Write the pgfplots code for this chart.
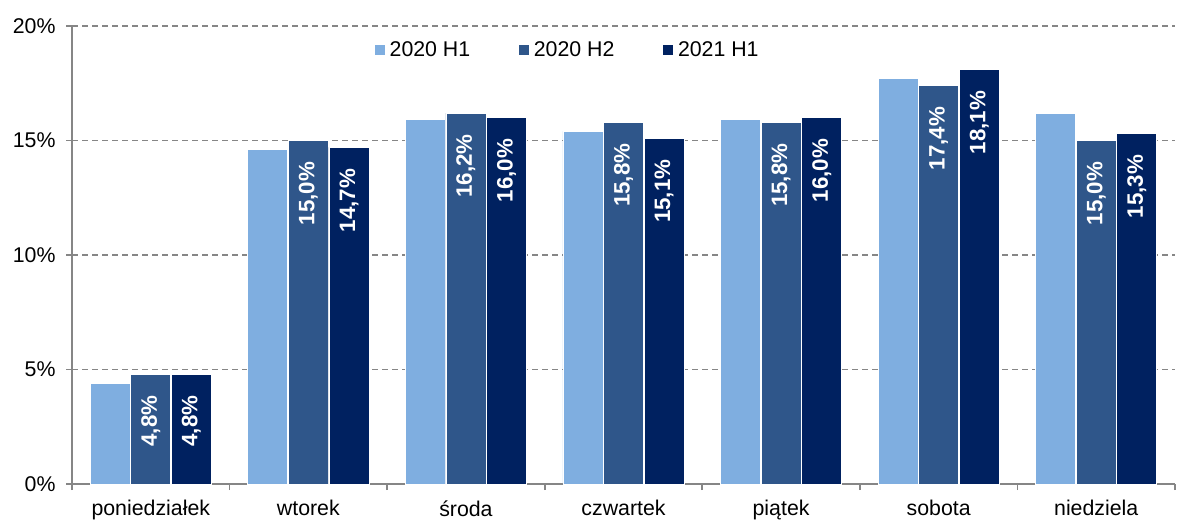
\documentclass[border=0pt]{standalone}
\usepackage{pgfplots}
\pgfplotsset{compat=1.18}
\usepackage{pgfplotstable}
\usepackage{fontspec}
\setmainfont{Liberation Sans}

\definecolor{hOne}{RGB}{127,174,224}
\definecolor{hTwo}{RGB}{47,86,138}
\definecolor{hThree}{RGB}{0,33,96}
\definecolor{axgray}{RGB}{134,134,134}

% share of transactions by day of week (%)
\pgfplotstableread{
x  a    b    c
0  4.4  4.8  4.8
1  14.6 15.0 14.7
2  15.9 16.2 16.0
3  15.4 15.8 15.1
4  15.9 15.8 16.0
5  17.7 17.4 18.1
6  16.2 15.0 15.3
}\days

\newcommand\lblfont{\fontsize{10.7}{12.5}\selectfont}

\begin{document}
\lblfont
\begin{tikzpicture}[x=1bp,y=1bp]
% fixes page size
\path (0,0) rectangle (591,260);
\begin{axis}[
  at={(36bp,18bp)}, anchor=south west,
  width=551.5bp, height=229bp, scale only axis,
  /pgf/number format/assume math mode=true,
  ymin=0, ymax=20, ytick={0,5,10,15,20},
  yticklabel={\pgfmathprintnumber{\tick}\%},
  xmin=-0.5, xmax=6.5,
  xtick={0,...,6},
  xticklabels={poniedziałek,wtorek,środa,czwartek,piątek,sobota,niedziela},
  minor xtick={-0.5,0.5,...,6.5},
  major x tick style={draw=none},
  tick align=outside,
  major tick length=3bp, minor tick length=3bp,
  tick style={axgray, line width=0.9pt},
  axis x line*=bottom, axis y line*=left,
  axis line style={axgray, line width=0.9pt, -},
  ymajorgrids,
  grid style={axgray, line width=0.7pt, dash pattern=on 3bp off 2bp},
  yticklabel style={font=\lblfont, xshift=-1.5bp},
  xticklabel style={font=\lblfont, yshift=-1.5bp},
  ybar, bar width=20bp,
  clip=false,
  legend style={at={(0.45,0.985)}, anchor=north, draw=none, fill=none,
    legend columns=3, font=\lblfont,
    /tikz/every even column/.append style={column sep=22bp}},
  legend image code/.code={\fill[#1] (0bp,-2.7bp) rectangle (5.4bp,2.7bp);},
  nodes near coords style={rotate=90, anchor=east, text=white,
    font=\bfseries\fontsize{11.2}{13}\selectfont, xshift=-7bp},
]
\addplot[fill=hOne, draw=white, line width=0.4pt, bar shift=-20.3bp] table[x=x,y=a] {\days};
\addplot[fill=hTwo, draw=white, line width=0.4pt, bar shift=0bp,
  nodes near coords={\pgfmathprintnumber[fixed,fixed zerofill,precision=1,use comma]{\pgfplotspointmeta}\%}]
  table[x=x,y=b] {\days};
\addplot[fill=hThree, draw=white, line width=0.4pt, bar shift=20.3bp,
  nodes near coords={\pgfmathprintnumber[fixed,fixed zerofill,precision=1,use comma]{\pgfplotspointmeta}\%}]
  table[x=x,y=c] {\days};
\legend{2020 H1, 2020 H2, 2021 H1}
\end{axis}
\end{tikzpicture}
\end{document}
